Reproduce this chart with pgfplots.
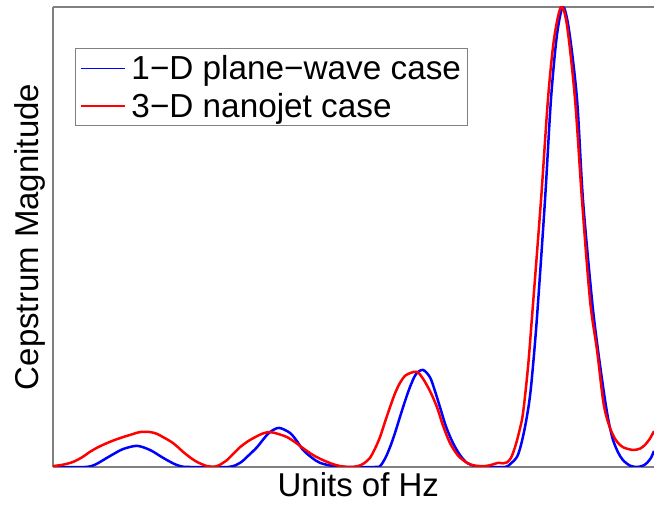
\documentclass[border=0pt]{standalone}
\usepackage{fontspec}
\setmainfont{Liberation Sans}
\usepackage{pgfplots}
\pgfplotsset{compat=1.18}
\begin{document}
\begin{tikzpicture}
\begin{axis}[
  at={(0pt,0pt)}, anchor=south west,
  scale only axis, width=601pt, height=460pt,
  xmin=53, xmax=654, ymin=0, ymax=100,
  axis x line*=box, axis y line*=left,
  axis line style={black!50, line width=1.2pt},
  xtick=\empty, ytick=\empty,
  clip=true,
  xlabel={\fontsize{33}{38}\selectfont Units of Hz},
  ylabel={\fontsize{33}{38}\selectfont Cepstrum Magnitude},
  xlabel style={at={(0.508,0)}, anchor=north, yshift=-3pt, inner sep=2pt},
  ylabel style={at={(0,0.5)}, anchor=south, yshift=5pt, inner sep=2pt},
  legend style={at={(0.0366,0.911)}, anchor=north west, draw=black!50, line width=1pt,
    font=\fontsize{33.3}{38}\selectfont, inner xsep=4pt, inner ysep=5pt, row sep=8pt,
    cells={anchor=west}},
  legend image code/.code={\draw[#1, line width=1.5pt] (2pt,0pt) -- (46pt,0pt); \path[draw=none] (0pt,-5pt) rectangle (50pt,5pt);},
]
\addplot[blue, line width=2.5pt, smooth, tension=0.5] coordinates {
(53,0) (85,0) (95,0.5) (107,2.0) (115,3.0) (123,3.9) (137,4.6) (150,3.7) (160,2.4) (167,1.5) (175,0.6) (182,0.1) (190,0)
(228,0) (240,0.9) (248,2.4) (257,4.3) (264,6.2) (270,7.6) (279,8.5) (290,7.4) (297,5.6) (303,3.7) (312,2.0) (320,0.9) (333,0.2) (345,0)
(375,0) (380,0.2) (385,1.8) (390,4.3) (395,7.4) (400,10.9) (405,14.3) (410,17.4) (416,20.2) (423,21.1) (430,19.5) (435,16.5) (440,13) (446,8.8) (453,5.2) (460,2.6) (467,0.9) (475,0.2) (485,0)
(505,0) (510,0.6) (517,2.2) (521,4.8) (525,8.7) (529,13.8) (532,19.6) (537,32.6) (545,58) (551,80) (557,94) (563,100) (569,95) (577,80) (583,58) (592,36.3) (598,25.4) (605,14.6) (609,9.5) (613,5.9) (618,3.2) (623,1.5) (630,0.3) (637,0) (643,0.3) (647,0.9) (651,2) (654,3.5)
};
\addlegendentry{1−D plane−wave case}
\addplot[red, line width=2.5pt, smooth, tension=0.5] coordinates {
(53,0.2) (63,0.5) (73,1.1) (82,2.1) (90,3.3) (98,4.3) (107,5.2) (115,5.9) (123,6.5) (132,7.1) (140,7.6) (150,7.6) (157,7.2) (163,6.5) (168,5.9) (173,5.2) (178,4.3) (183,3.3) (190,2.1) (197,1.1) (207,0.2) (215,0.1)
(220,0.5) (227,1.5) (233,2.8) (240,4.3) (248,5.6) (257,6.7) (263,7.3) (270,7.6) (278,7.2) (287,6.5) (295,5.4) (303,4.1) (313,2.6) (323,1.5) (332,0.7) (340,0.2) (350,0)
(358,0.2) (364,0.8) (370,2.0) (375,4.0) (380,6.5) (385,9.8) (390,13) (395,16) (400,18.3) (405,19.8) (410,20.4) (417,20.7) (423,19.2) (430,16.5) (437,13) (443,9) (450,5.2) (458,2.5) (467,0.9) (475,0.3) (485,0.2)
(492,0.5) (498,0.9) (503,0.8) (507,1.0) (511,2.0) (515,4.3) (519,7.5) (523,11.7) (528,21.7) (532,32.6) (541,58) (548,80) (554,93) (561,100) (567,96) (575,80) (582,58) (590,36.3) (597,25.4) (603,14.6) (607,10.5) (612,7.4) (617,5.5) (623,4.3) (633,3.7) (640,4.0) (645,4.8) (650,6.2) (654,7.8)
};
\addlegendentry{3−D nanojet case}
\end{axis}
\pgfresetboundingbox
\path[use as bounding box] (-53pt,-39pt) rectangle (601pt,467pt);
\end{tikzpicture}
\end{document}
